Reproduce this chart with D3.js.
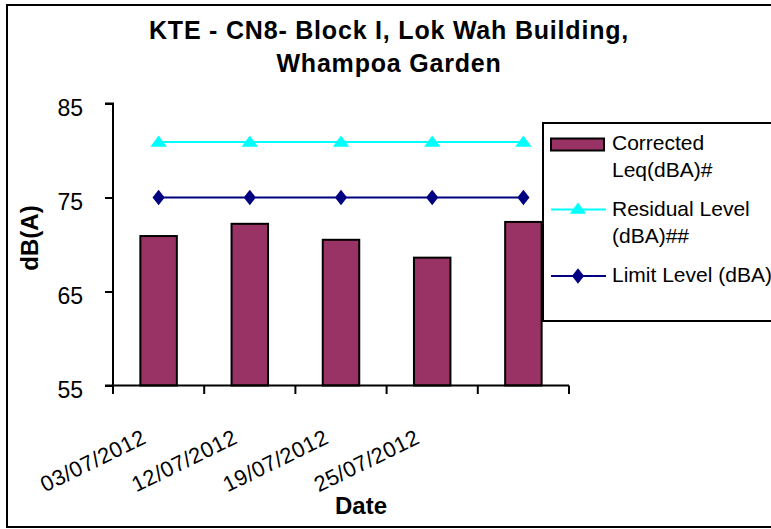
<!DOCTYPE html>
<html>
<head>
<meta charset="utf-8">
<script src="https://cdn.jsdelivr.net/npm/d3@7"></script>
<style>
  html, body { margin: 0; padding: 0; background: #fff; }
  svg { display: block; font-family: "Liberation Sans", Arial, sans-serif; }
</style>
</head>
<body>
<svg id="chart" width="771" height="529"></svg>
<script>
const titleLines = ["KTE - CN8- Block I, Lok Wah Building,", "Whampoa Garden"];
const categories = ["03/07/2012", "12/07/2012", "19/07/2012", "25/07/2012", ""];
const correctedLeq = [70.9, 72.2, 70.5, 68.6, 72.4];
const residualLevel = [80.9, 80.9, 80.9, 80.9, 80.9];
const limitLevel = [75, 75, 75, 75, 75];
const yTicks = [55, 65, 75, 85];
const seriesNames = ["Corrected\nLeq(dBA)#", "Residual Level\n(dBA)##", "Limit Level (dBA)"];

const svg = d3.select("#chart");

// outer frame
svg.append("rect").attr("x", 7).attr("y", 5).attr("width", 800).attr("height", 522)
  .attr("fill", "#fff").attr("stroke", "#000").attr("stroke-width", 2);

const plot = { left: 113, right: 569, top: 103.5, bottom: 385.5 };
const idx = categories.map((d, i) => i);
const x = d3.scaleBand().domain(idx).range([plot.left, plot.right]).padding(0);
const y = d3.scaleLinear().domain([55, 85]).range([plot.bottom, plot.top]);
const barW = x.bandwidth() * 0.4;

// title
const title = svg.append("text").attr("text-anchor", "middle")
  .attr("font-weight", "bold").attr("font-size", 25).attr("letter-spacing", 0.8).attr("fill", "#000");
titleLines.forEach((t, i) => {
  title.append("tspan").attr("x", 389).attr("y", 39 + i * 33).text(t);
});

// bars
svg.append("g").selectAll("rect").data(correctedLeq).join("rect")
  .attr("x", (d, i) => x(i) + x.bandwidth() / 2 - barW / 2)
  .attr("y", d => y(d))
  .attr("width", barW)
  .attr("height", d => y(55) - y(d))
  .attr("fill", "#993366").attr("stroke", "#000").attr("stroke-width", 2);

// y axis
const yAxis = d3.axisLeft(y).tickValues(yTicks).tickSize(8).tickPadding(22).tickFormat(d3.format("d"));
const gy = svg.append("g").attr("transform", `translate(${plot.left},0)`).call(yAxis);
gy.select(".domain").attr("stroke", "#000").attr("stroke-width", 2).attr("d", `M-8,${plot.top}H0V${plot.bottom}H-8`);
gy.selectAll(".tick line").attr("stroke", "#000").attr("stroke-width", 2);
gy.selectAll(".tick text").attr("font-size", 23).attr("dy", "0.5em")
  .attr("font-family", "Liberation Sans, Arial, sans-serif").attr("fill", "#000");

// x axis
const gx = svg.append("g").attr("transform", `translate(0,${plot.bottom})`);
gx.append("line").attr("x1", plot.left).attr("x2", plot.right).attr("stroke", "#000").attr("stroke-width", 2);
const bounds = idx.map(i => x(i)).concat([plot.right]);
gx.selectAll("line.tk").data(bounds).join("line").attr("class", "tk")
  .attr("x1", d => d).attr("x2", d => d).attr("y1", 0).attr("y2", 8.5)
  .attr("stroke", "#000").attr("stroke-width", 2);
gx.selectAll("text.cat").data(categories).join("text").attr("class", "cat")
  .attr("text-anchor", "end").attr("font-size", 22).attr("letter-spacing", 0.4).attr("fill", "#000")
  .attr("transform", (d, i) => `translate(${x(i) + x.bandwidth() / 2 - 11},${57}) rotate(-26)`)
  .text(d => d);

// axis titles
svg.append("text").attr("font-weight", "bold").attr("font-size", 24).attr("text-anchor", "middle")
  .attr("transform", `translate(38,238) rotate(-90)`).text("dB(A)");
svg.append("text").attr("font-weight", "bold").attr("font-size", 24).attr("text-anchor", "middle")
  .attr("x", 361).attr("y", 514).text("Date");

// lines
const line = d3.line().x((d, i) => x(i) + x.bandwidth() / 2).y(d => y(d));
svg.append("path").datum(residualLevel).attr("d", line).attr("fill", "none")
  .attr("stroke", "#00FFFF").attr("stroke-width", 2);
svg.append("path").datum(limitLevel).attr("d", line).attr("fill", "none")
  .attr("stroke", "#000080").attr("stroke-width", 2);
const tri = d3.symbol().type(d3.symbolTriangle).size(75);
const dia = d3.symbol().type(d3.symbolDiamond).size(70);
svg.append("g").selectAll("path").data(residualLevel).join("path")
  .attr("d", tri).attr("fill", "#00FFFF")
  .attr("transform", (d, i) => `translate(${x(i) + x.bandwidth() / 2},${y(d) + 1}) scale(1.25,1)`);
svg.append("g").selectAll("path").data(limitLevel).join("path")
  .attr("d", dia).attr("fill", "#000080")
  .attr("transform", (d, i) => `translate(${x(i) + x.bandwidth() / 2},${y(d)}) scale(1.35,1)`);

// legend
const lg = svg.append("g");
lg.append("rect").attr("x", 543).attr("y", 123).attr("width", 260).attr("height", 198)
  .attr("fill", "#fff").attr("stroke", "#000").attr("stroke-width", 2);
lg.append("rect").attr("x", 551).attr("y", 138.5).attr("width", 53).attr("height", 12)
  .attr("fill", "#993366").attr("stroke", "#000").attr("stroke-width", 2);
lg.append("line").attr("x1", 551).attr("x2", 606).attr("y1", 209.5).attr("y2", 209.5)
  .attr("stroke", "#00FFFF").attr("stroke-width", 2);
lg.append("path").attr("d", tri).attr("fill", "#00FFFF").attr("transform", "translate(578,210) scale(1.25,1)");
lg.append("line").attr("x1", 551).attr("x2", 606).attr("y1", 276).attr("y2", 276)
  .attr("stroke", "#000080").attr("stroke-width", 2);
lg.append("path").attr("d", dia).attr("fill", "#000080").attr("transform", "translate(578,276) scale(1.35,1)");
const lgY = [150, 216, 282];
seriesNames.forEach((name, k) => {
  const t = lg.append("text").attr("font-size", 21).attr("fill", "#000");
  name.split("\n").forEach((ln, j) => {
    t.append("tspan").attr("x", 612).attr("y", lgY[k] + j * 27).text(ln);
  });
});
</script>
</body>
</html>
